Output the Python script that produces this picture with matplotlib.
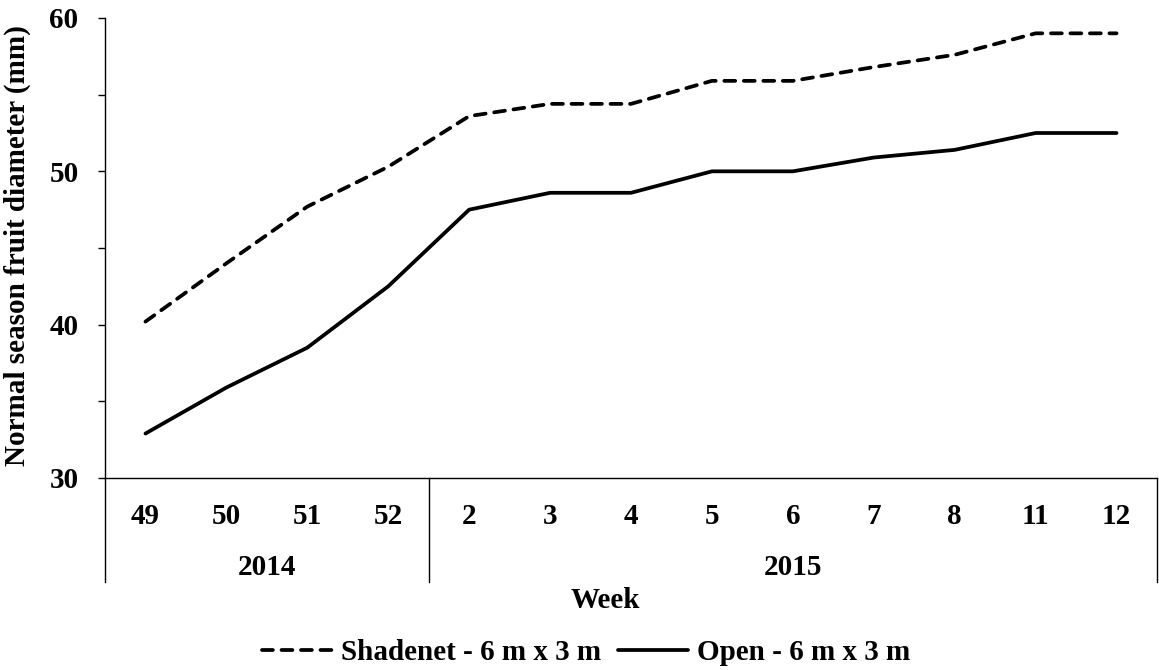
import matplotlib
matplotlib.use("Agg")
import matplotlib.pyplot as plt
from matplotlib.lines import Line2D

# --- data ---
weeks = ["49", "50", "51", "52", "2", "3", "4", "5", "6", "7", "8", "11", "12"]
years = ["2014", "2015"]
year_sizes = [4, 9]
shadenet = [40.2, 44.0, 47.7, 50.3, 53.6, 54.4, 54.4, 55.9, 55.9, 56.8, 57.6, 59.0, 59.0]
open_field = [32.9, 35.9, 38.5, 42.5, 47.5, 48.6, 48.6, 50.0, 50.0, 50.9, 51.4, 52.5, 52.5]
series_names = ["Shadenet - 6 m x 3 m", "Open - 6 m x 3 m"]

plt.rcParams["font.family"] = ["Liberation Serif", "DejaVu Serif"]
plt.rcParams["font.weight"] = "bold"
FS = 21

W, H = 1159, 670
fig = plt.figure(figsize=(W / 100, H / 100), dpi=100)
ax = fig.add_axes([105 / W, 1 - 478 / H, (1157 - 105) / W, 460 / H])

x = list(range(len(weeks)))
lw = 2.7
dash = (2.9, 2.3)
ax.plot(x, shadenet, color="black", lw=lw, dashes=dash,
        dash_capstyle="round", solid_capstyle="round", label=series_names[0])
ax.plot(x, open_field, color="black", lw=lw, solid_capstyle="round",
        label=series_names[1])

ax.set_xlim(-0.5, len(weeks) - 0.5)
ax.set_ylim(30, 60)
ax.set_yticks([30, 40, 50, 60])
ax.set_yticks([35, 45, 55], minor=True)
ax.tick_params(axis="y", which="both", length=5, width=1, direction="out", pad=14, labelsize=FS)
ax.set_xticks([])
for s in ["top", "right"]:
    ax.spines[s].set_visible(False)
ax.spines["left"].set_linewidth(1.0)
ax.spines["bottom"].set_linewidth(1.0)

# week labels and year groups under the axis
trans = ax.get_xaxis_transform()
for i, w in enumerate(weeks):
    ax.text(i, -(524 - 478) / 460, w, transform=trans, ha="center", va="baseline",
            fontsize=FS, fontweight="bold")

start = -0.5
bottom = -(582 - 478) / 460
ax.plot([start, start], [0, bottom], transform=trans, color="black", lw=1.0, clip_on=False)
for yr, n in zip(years, year_sizes):
    end = start + n
    ax.plot([end, end], [0, bottom], transform=trans, color="black", lw=1.0, clip_on=False)
    ax.text((start + end) / 2, -(575 - 478) / 460, yr, transform=trans, ha="center",
            va="baseline", fontsize=FS, fontweight="bold")
    start = end

fig.text(605 / W, 1 - 608 / H, "Week", ha="center", va="baseline", fontsize=FS, fontweight="bold")
fig.text(17 / W, 1 - 246 / H, "Normal season fruit diameter (mm)", rotation=90,
         ha="center", va="center", fontsize=FS, fontweight="bold")

handles = [Line2D([], [], color="black", lw=lw, dashes=dash, dash_capstyle="round"),
           Line2D([], [], color="black", lw=lw, solid_capstyle="round")]
fig.legend(handles, series_names, loc="center", bbox_to_anchor=(586 / W, 1 - 653 / H),
           ncol=2, frameon=False, fontsize=FS, handlelength=2.4, handletextpad=0.3,
           columnspacing=0.6, borderpad=0, borderaxespad=0)

fig.savefig("out.png", dpi=100)
